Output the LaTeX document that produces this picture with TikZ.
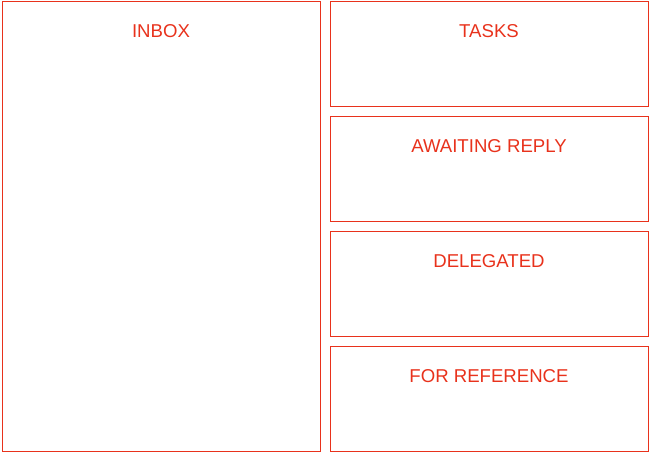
\documentclass[tikz,border=0pt]{standalone}
\usepackage{fontspec}
\setmainfont{Liberation Sans}
\definecolor{boxred}{RGB}{232,50,28}
\begin{document}
\begin{tikzpicture}[x=1pt,y=-1pt,
  panel/.style={draw=boxred,line width=1pt,rectangle,inner sep=0pt,minimum width=318pt},
  title/.style={text=boxred,font=\fontsize{18.6}{21}\selectfont,anchor=base,inner sep=0pt}]
\useasboundingbox (0,0) rectangle (651,454);
\node[panel,minimum height=450pt] (inbox) at (161,226.2) {};
\node[panel,minimum height=105pt] (tasks) at (489,53.7) {};
\node[panel,minimum height=105pt] (await) at (489,168.7) {};
\node[panel,minimum height=105pt] (deleg) at (489,283.7) {};
\node[panel,minimum height=105pt] (ref) at (489,398.7) {};
\node[title] (tinbox) at ([yshift=-37pt]inbox.north) {INBOX};
\node[title] (ttasks) at ([yshift=-37pt]tasks.north) {TASKS};
\node[title] (tawait) at ([yshift=-37pt]await.north) {AWAITING REPLY};
\node[title] (tdeleg) at ([yshift=-37pt]deleg.north) {DELEGATED};
\node[title] (tref) at ([yshift=-37pt]ref.north) {FOR REFERENCE};
\end{tikzpicture}
\end{document}
